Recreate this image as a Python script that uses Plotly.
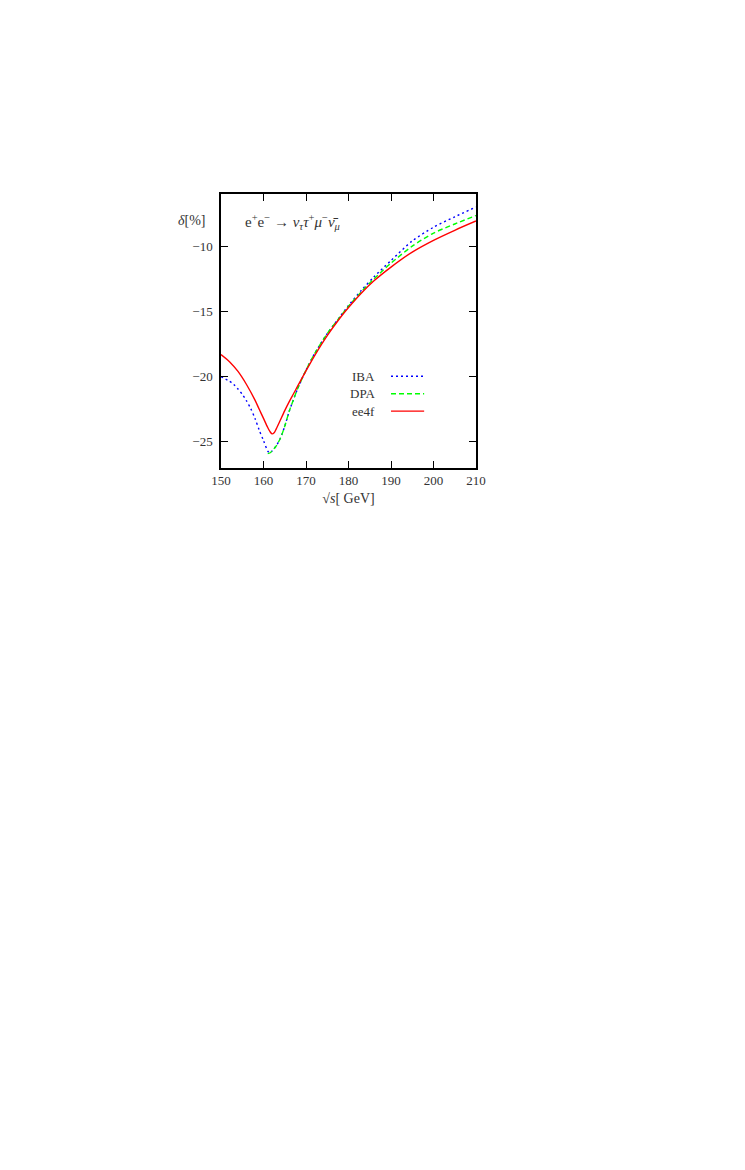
import plotly.graph_objects as go

# ── Data (sqrt(s) in GeV, delta in %) ─────────────────────────────────────────
SQRT_S_IBA = [150, 152, 153, 154, 155, 156, 157, 158, 159, 160, 161, 161.5, 162, 163,
              164, 165, 166, 167, 168, 170, 172, 175, 178, 180, 183, 186, 190, 195,
              200, 205, 210]
DELTA_IBA  = [-20.0, -20.35, -20.6, -20.95, -21.35, -21.85, -22.45, -23.2, -24.1, -24.9,
              -25.7, -25.85, -25.7, -25.3, -24.7, -23.8, -22.7, -21.8, -20.95, -19.5,
              -18.25, -16.7, -15.4, -14.55, -13.4, -12.35, -11.1, -9.6, -8.55, -7.75, -7.0]

SQRT_S_DPA = [161, 161.5, 162, 163, 164, 165, 166, 167, 168, 170, 172, 175, 178, 180,
              183, 186, 190, 195, 200, 205, 210]
DELTA_DPA  = [-25.9, -25.85, -25.7, -25.3, -24.7, -23.8, -22.7, -21.8, -20.95, -19.5,
              -18.25, -16.7, -15.42, -14.6, -13.5, -12.5, -11.3, -10.0, -9.0, -8.3, -7.65]

SQRT_S_EE4F = [150, 152, 154, 156, 158, 159, 160, 161, 161.5, 162, 162.5, 163, 164,
               165, 166, 167, 168, 170, 172, 175, 178, 180, 183, 186, 190, 195, 200,
               205, 210]
DELTA_EE4F  = [-18.3, -18.85, -19.6, -20.6, -21.8, -22.5, -23.2, -23.9, -24.2, -24.38,
               -24.3, -24.0, -23.3, -22.6, -21.95, -21.35, -20.75, -19.55, -18.4, -16.85,
               -15.5, -14.7, -13.6, -12.65, -11.6, -10.45, -9.55, -8.78, -8.07]

X_TICKS = [150, 160, 170, 180, 190, 200, 210]
Y_TICKS = [-25, -20, -15, -10]

SERIES = [
    ("IBA",  SQRT_S_IBA,  DELTA_IBA,  "#0000ff", "2px,3px"),
    ("DPA",  SQRT_S_DPA,  DELTA_DPA,  "#00ff00", "5px,3px"),
    ("ee4f", SQRT_S_EE4F, DELTA_EE4F, "#ff0000", "solid"),
]

FONT = "Liberation Serif, DejaVu Serif, serif"
TXT  = "#333333"

fig = go.Figure()
for name, xs, ys, col, dash in SERIES:
    fig.add_trace(go.Scatter(
        x=xs, y=ys, mode="lines", name=name, showlegend=False,
        line=dict(color=col, width=1.4, dash=dash, shape="spline", smoothing=0.8),
    ))

# ── gnuplot-style legend: text on the left, line sample on the right ─────────
LEG_Y = [-19.97, -21.31, -22.64]
for (name, _, _, col, dash), ly in zip(SERIES, LEG_Y):
    fig.add_shape(type="line", xref="x", yref="y", x0=190.0, x1=197.8, y0=ly, y1=ly,
                  line=dict(color=col, width=1.4, dash=dash))
    fig.add_annotation(x=186.7, y=ly, xref="x", yref="y", text=name, showarrow=False,
                       xanchor="right", yanchor="middle",
                       font=dict(family=FONT, size=13, color=TXT))

fig.add_annotation(
    x=-0.05, y=0.905, xref="paper", yref="paper", text="<i>δ</i>[%]",
    showarrow=False, xanchor="right", yanchor="middle",
    font=dict(family=FONT, size=14, color=TXT),
)
fig.add_annotation(
    x=0.085, y=0.899, xref="paper", yref="paper",
    text="e<sup>+</sup>e<sup>−</sup> → <i>ν</i><sub><i>τ</i></sub><i>τ</i><sup>+</sup>"
         "<i>μ</i><sup>−</sup><i>ν̄</i><sub><i>μ</i></sub>",
    showarrow=False, xanchor="left", yanchor="middle",
    font=dict(family=FONT, size=15, color=TXT),
)

axis_common = dict(
    showgrid=False, zeroline=False, showline=True, linecolor="black", linewidth=1.5,
    mirror="ticks", ticks="inside", ticklen=7, tickwidth=1.2, tickcolor="black",
    tickfont=dict(family=FONT, size=13, color=TXT),
)

fig.update_layout(
    width=745, height=1170, autosize=False,
    paper_bgcolor="white", plot_bgcolor="white",
    margin=dict(l=213, r=277, t=186, b=710),
    font=dict(family=FONT, color=TXT),
    xaxis=dict(range=[150, 210], tickvals=X_TICKS,
               title=dict(text="√<i>s</i>[ GeV]", font=dict(family=FONT, size=14, color=TXT),
                          standoff=6),
               **axis_common),
    yaxis=dict(range=[-27, -6], tickvals=Y_TICKS, ticklabelstandoff=4, **axis_common),
)

fig.write_html("out.html")
